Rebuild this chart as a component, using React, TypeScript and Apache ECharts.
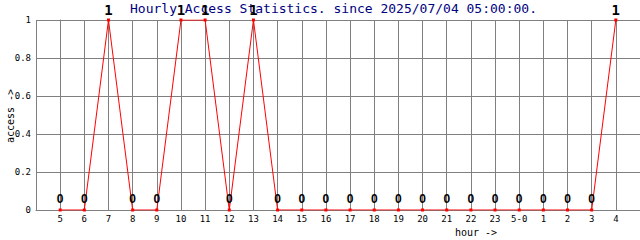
import React, { useEffect, useRef } from "react";
import * as echarts from "echarts";

const hours: string[] = ["5", "6", "7", "8", "9", "10", "11", "12", "13", "14", "15", "16", "17", "18", "19", "20", "21", "22", "23", "5-0", "1", "2", "3", "4"];
const access: number[] = [0, 0, 1, 0, 0, 1, 1, 0, 1, 0, 0, 0, 0, 0, 0, 0, 0, 0, 0, 0, 0, 0, 0, 1];
const yTicks: number[] = [0, 0.2, 0.4, 0.6, 0.8, 1];
const titleText = "Hourly Access Statistics. since 2025/07/04 05:00:00.";
const xName = "hour ->";
const yName = "access ->";

const MONO = "'DejaVu Sans Mono', monospace";

export default function App() {
  const ref = useRef<HTMLDivElement>(null);
  useEffect(() => {
    if (!ref.current) return;
    const chart = echarts.init(ref.current, null, { renderer: "svg" });
    const labelOne = {
      show: true,
      position: "top",
      distance: 2,
      fontFamily: MONO,
      fontWeight: "bold",
      fontSize: 14,
      color: "#000",
    };
    const labelZero = {
      show: true,
      position: "top",
      distance: 4,
      fontFamily: "'Liberation Sans', sans-serif",
      fontWeight: "bold",
      fontSize: 12,
      color: "#000",
    };
    const data = access.map((v, i) => ({
      value: [i, v],
      label: v > 0 ? labelOne : labelZero,
    }));
    chart.setOption({
      animation: false,
      backgroundColor: "#fff",
      grid: { left: 36, right: 0, top: 20, bottom: 30, containLabel: false, outerBoundsMode: "none" },
      xAxis: {
        type: "value",
        min: -1,
        max: 24,
        interval: 1,
        axisLine: { show: true, lineStyle: { color: "#808080", width: 1 } },
        axisTick: { show: false },
        splitLine: { show: true, lineStyle: { color: "#808080", width: 1 } },
        axisLabel: {
          fontFamily: MONO,
          fontSize: 9,
          color: "#000",
          margin: 4,
          formatter: (v: number) => (Number.isInteger(v) && v >= 0 && v < hours.length ? hours[v] : ""),
        },
      },
      yAxis: {
        type: "value",
        min: yTicks[0],
        max: yTicks[yTicks.length - 1],
        interval: 0.2,
        axisLine: { show: true, lineStyle: { color: "#808080", width: 1 } },
        axisTick: { show: false },
        splitLine: { show: true, lineStyle: { color: "#808080", width: 1 } },
        axisLabel: {
          fontFamily: MONO,
          fontSize: 9,
          color: "#000",
          margin: 5,
          formatter: (v: number) => String(Math.round(v * 10) / 10),
        },
      },
      graphic: [
        {
          type: "text",
          x: 130,
          y: 8,
          z: 0,
          style: {
            text: titleText,
            fill: "#000080",
            font: `13px ${MONO}`,
            textVerticalAlign: "middle",
          },
        },
        {
          type: "text",
          x: 476,
          y: 232,
          style: {
            text: xName,
            fill: "#000",
            font: `10px ${MONO}`,
            textAlign: "center",
            textVerticalAlign: "middle",
          },
        },
        {
          type: "text",
          x: 10,
          y: 116,
          rotation: Math.PI / 2,
          style: {
            text: yName,
            fill: "#000",
            font: `10px ${MONO}`,
            textAlign: "center",
            textVerticalAlign: "middle",
          },
        },
      ],
      series: [
        {
          type: "line",
          data,
          symbol: "rect",
          symbolSize: 3,
          itemStyle: { color: "#ff0000" },
          lineStyle: { color: "#ff0000", width: 1 },
          z: 5,
        },
      ],
    });
    return () => chart.dispose();
  }, []);
  return <div ref={ref} style={{ position: "absolute", left: 0, top: 0, width: 640, height: 240 }} />;
}
